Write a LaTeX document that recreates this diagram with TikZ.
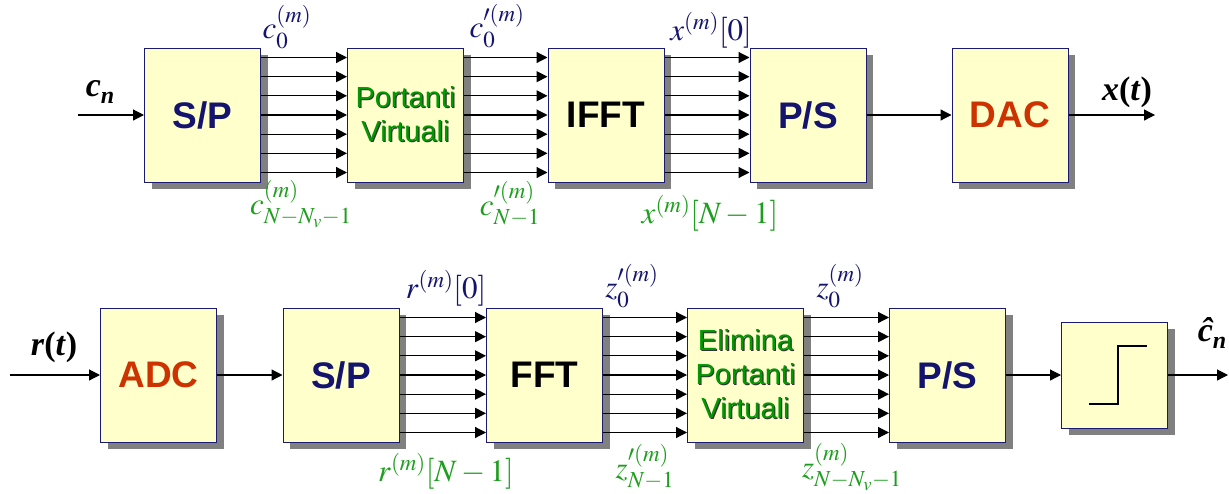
\documentclass[tikz,border=0pt]{standalone}
\usepackage{mathptmx}
\usepackage[no-math]{fontspec}
\setmainfont{Liberation Sans}
\newfontfamily\tnr{Liberation Serif}
\usetikzlibrary{shadows,arrows.meta}
\definecolor{boxfill}{HTML}{FFFFCC}
\definecolor{boxline}{HTML}{1A1A73}
\definecolor{navy}{HTML}{14146E}
\definecolor{dacred}{HTML}{CC3300}
\definecolor{pvgreen}{HTML}{009900}
\definecolor{lblgreen}{HTML}{1E9E1E}
\definecolor{shadowgray}{HTML}{808080}
\newcommand\gsh[1]{\leavevmode\rlap{\kern1.1pt\raisebox{-1.1pt}{\color{black!80}#1}}{\color{pvgreen}#1}}
\newcommand\bsub[2]{#1\raisebox{-0.22em}{\fontsize{24}{26}\selectfont #2}}
\tikzset{
  blk/.style={draw=boxline, line width=1pt, fill=boxfill, minimum width=116pt,
    minimum height=134pt, inner sep=0pt, align=center,
    font=\fontsize{37}{40}\selectfont\bfseries,
    drop shadow={shadow xshift=7pt, shadow yshift=-7pt, fill=shadowgray, opacity=1}},
  smallblk/.style={blk, font=\fontsize{29}{34}\selectfont},
  qblk/.style={blk, minimum width=106pt, minimum height=106pt},
  conn/.style={line width=1.2pt, -{Triangle[length=11pt,width=11pt]}},
  lbl/.style={inner sep=0pt, font=\fontsize{31}{33}\selectfont},
  toplbl/.style={lbl, text=navy},
  botlbl/.style={lbl, text=lblgreen},
  sig/.style={inner sep=0pt, font=\fontsize{34}{36}\selectfont\tnr\bfseries}
}
\newcommand\bus[2]{\foreach \o in {-57.5,-38.33,-19.17,0,19.17,38.33,57.5}{\draw[conn] ([yshift=\o pt]#1.east) -- ([yshift=\o pt]#2.west);}}
\begin{document}
\begin{tikzpicture}[x=1pt,y=-1pt]
\useasboundingbox (0,0) rectangle (1229,493);
% top row
\node[blk, text=navy] (sp1) at (202.5,115) {S/P};
\node[smallblk] (pv) at (405.5,115) {\gsh{Portanti}\\\gsh{Virtuali}};
\node[blk, text=black] (ifft) at (606,115) {IFFT};
\node[blk, text=navy] (ps1) at (808,115) {P/S};
\node[blk, text=dacred] (dac) at (1010,115) {DAC};
\coordinate (in1) at (78,115);
\coordinate (out1) at (1155,115);
\draw[conn] (in1) -- (sp1.west);
\bus{sp1}{pv}
\bus{pv}{ifft}
\bus{ifft}{ps1}
\draw[conn] (ps1.east) -- (dac.west);
\draw[conn] (dac.east) -- (out1);
% bottom row
\node[blk, text=dacred] (adc) at (158.5,375) {ADC};
\node[blk, text=navy] (sp2) at (341,375) {S/P};
\node[blk, text=black] (fft) at (544.5,375) {FFT};
\node[smallblk] (el) at (745.5,375) {\gsh{Elimina}\\\gsh{Portanti}\\\gsh{Virtuali}};
\node[blk, text=navy] (ps2) at (947.5,375) {P/S};
\node[qblk] (q) at (1114.5,375) {};
\draw[line width=2pt, shift={(q.center)}] (-25.5,29.3) -- (3.2,29.3) -- (3.2,-28.7) -- (32.2,-28.7);
\coordinate (in2) at (10,375);
\coordinate (out2) at (1228,375);
\draw[conn] (in2) -- (adc.west);
\draw[conn] (adc.east) -- (sp2.west);
\bus{sp2}{fft}
\bus{fft}{el}
\bus{el}{ps2}
\draw[conn] (ps2.east) -- (q.west);
\draw[conn] (q.east) -- (out2);
% signal labels
\node[sig] (lcn) at (100,92) {\bsub{\itshape c}{\itshape n}};
\node[sig] (lxt) at (1127,92) {\textit{x}(\textit{t})};
\node[sig] (lrt) at (54,347) {\textit{r}(\textit{t})};
\node[sig] (lch) at (1212,333) {\bsub{\itshape ĉ}{\itshape n}};
% bus labels top
\node[toplbl] (l1) at (287,27) {$c_0^{(m)}$};
\node[botlbl] (l2) at (301,204) {$c_{N-N_v-1}^{(m)}$};
\node[toplbl] (l3) at (497,26) {$c_0^{\prime(m)}$};
\node[botlbl] (l4) at (510,204) {$c_{N-1}^{\prime(m)}$};
\node[toplbl] (l5) at (711,30) {$x^{(m)}[0]$};
\node[botlbl] (l6) at (710,213) {$x^{(m)}[N-1]$};
% bus labels bottom
\node[toplbl] (l7) at (446,288) {$r^{(m)}[0]$};
\node[botlbl] (l8) at (446,471) {$r^{(m)}[N-1]$};
\node[toplbl] (l9) at (632,286) {$z_0^{\prime(m)}$};
\node[botlbl] (l10) at (645,467) {$z_{N-1}^{\prime(m)}$};
\node[toplbl] (l11) at (840,286) {$z_0^{(m)}$};
\node[botlbl] (l12) at (852,467) {$z_{N-N_v-1}^{(m)}$};
\end{tikzpicture}
\end{document}
